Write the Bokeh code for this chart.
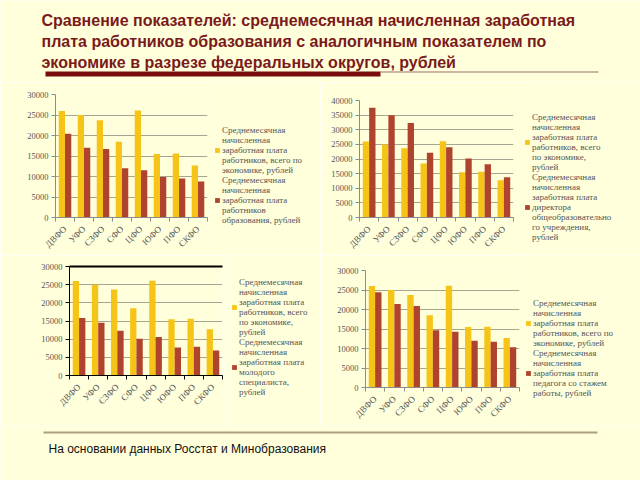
import math
from bokeh.plotting import figure
from bokeh.models import (FixedTicker, LinearAxis, Legend, LegendItem, Label,
                          BoxAnnotation, Range1d, ColumnDataSource)
from bokeh.layouts import column, row
from bokeh.transform import dodge
from bokeh.embed import file_html
from bokeh.resources import INLINE

# ---------------- data ----------------
districts = ["ДВФО", "УФО", "СЗФО", "СФО", "ЦФО", "ЮФО", "ПФО", "СКФО"]
economy_avg = [26000, 25000, 23700, 18500, 26100, 15500, 15600, 12700]
education_avg = [20400, 17000, 16700, 12000, 11500, 9900, 9500, 8800]
director_avg = [37500, 35000, 32300, 22100, 24000, 20200, 18200, 13800]
young_spec_avg = [15800, 14500, 12300, 10100, 10600, 7700, 7900, 6900]
teacher_exp_avg = [24400, 21400, 20900, 14700, 14300, 12000, 11700, 10300]

title_text = ("Сравнение показателей: среднемесячная начисленная заработная\n"
              "плата работников образования с аналогичным показателем по\n"
              "экономике в разрезе федеральных округов, рублей")
footer_text = "На основании данных Росстат и Минобразования"

lab_economy_a = ["Среднемесячная", "начисленная", "заработная плата",
                 "работников, всего по", "экономике, рублей"]
lab_economy_b = ["Среднемесячная", "начисленная", "заработная плата",
                 "работников, всего", "по экономике,", "рублей"]
lab_education = ["Среднемесячная", "начисленная", "заработная плата",
                 "работников", "образования, рублей"]
lab_director = ["Среднемесячная", "начисленная", "заработная плата",
                "директора", "общеобразовательно", "го учреждения,", "рублей"]
lab_young = ["Среднемесячная", "начисленная", "заработная плата",
             "молодого", "специалиста,", "рублей"]
lab_teacher = ["Среднемесячная", "начисленная", "заработная плата",
               "педагога со стажем", "работы, рублей"]

# ---------------- styles ----------------
BG = "#FFFFDC"
YELLOW = "#F6C417"
RED = "#B0432E"
GRID = "#A6A690"
AXIS = "#8C8C8C"
TXT = "#555555"
SERIF = "Liberation Serif"


def make_chart(second, lab1, lab2, ymax, h, bl, fw, bt, bb, leg_x, leg_y, dark=False):
    n = len(districts)
    cw = bl + fw + 4
    src = ColumnDataSource(dict(x=list(range(n)), total=economy_avg, other=second))
    p = figure(width=cw, height=h, x_range=Range1d(-0.5, n - 0.5), y_range=Range1d(0, ymax),
               output_backend="svg", toolbar_location=None,
               min_border_left=bl, min_border_right=4, min_border_top=bt, min_border_bottom=bb,
               background_fill_color=BG, border_fill_color=BG)
    p.vbar(x=dodge("x", -0.165), top="total", width=0.33, source=src,
           fill_color=YELLOW, line_color=None)
    p.vbar(x=dodge("x", 0.165), top="other", width=0.33, source=src,
           fill_color=RED, line_color=None)

    p.outline_line_color = None
    p.xgrid.grid_line_color = None
    yt = list(range(0, ymax + 1, 5000))
    p.yaxis.ticker = FixedTicker(ticks=yt)
    p.ygrid.ticker = FixedTicker(ticks=yt)
    p.ygrid.grid_line_color = GRID
    p.ygrid.grid_line_width = 1

    p.xaxis.ticker = FixedTicker(ticks=list(range(n)),
                                 minor_ticks=[i - 0.5 for i in range(n + 1)])
    p.xaxis.major_label_overrides = {i: d for i, d in enumerate(districts)}
    p.xaxis.major_tick_out = 0
    p.xaxis.major_tick_in = 0
    p.xaxis.minor_tick_out = 4
    p.xaxis.minor_tick_in = 0
    p.xaxis.major_label_orientation = math.pi / 4
    p.xaxis.major_label_standoff = 6
    p.xaxis.major_label_text_font_size = "9px"

    p.yaxis.major_tick_out = 4
    p.yaxis.major_tick_in = 0
    p.yaxis.minor_tick_out = 0
    p.yaxis.minor_tick_in = 0
    p.yaxis.major_label_standoff = 3
    p.yaxis.major_label_text_font_size = "8.5px"

    axc = "#000000" if dark else AXIS
    for ax in (p.xaxis, p.yaxis):
        ax.axis_line_color = axc
        ax.major_tick_line_color = axc
        ax.minor_tick_line_color = axc
        ax.major_label_text_font = SERIF
        ax.major_label_text_color = TXT

    if dark:
        top_ax = LinearAxis(ticker=FixedTicker(ticks=[]), axis_line_color="#000000",
                            axis_line_width=2, major_label_text_font_size="0px",
                            major_tick_out=0, minor_tick_out=0)
        p.add_layout(top_ax, "above")

    # legend panel: a separate figure (its bars lie outside its visible range)
    lw = 320 - cw
    lp = figure(width=lw, height=h, x_range=Range1d(-100, -99), y_range=Range1d(0, 1),
                x_axis_location=None, y_axis_location=None, output_backend="svg",
                toolbar_location=None, min_border=0,
                background_fill_color=BG, border_fill_color=BG)
    lp.grid.visible = False
    lp.outline_line_color = None
    k1 = lp.vbar(x="x", top="total", width=0.3, source=src, fill_color=YELLOW, line_color=None)
    k2 = lp.vbar(x="x", top="other", width=0.3, source=src, fill_color=RED, line_color=None)
    legend = Legend(items=[LegendItem(label="\n".join(lab1), renderers=[k1]),
                           LegendItem(label="\n".join(lab2), renderers=[k2])],
                    location=(leg_x, leg_y))
    legend.label_text_font = SERIF
    legend.label_text_font_size = "9px"
    legend.label_text_color = TXT
    legend.label_text_line_height = 1.15
    legend.label_height = 8
    legend.glyph_width = 6
    legend.glyph_height = 6
    legend.label_standoff = 2
    legend.spacing = 0
    legend.padding = 0
    legend.margin = 0
    legend.background_fill_alpha = 0
    legend.border_line_color = None
    lp.add_layout(legend, "center")
    return row(p, column(lp))


c1 = make_chart(education_avg, lab_economy_a, lab_education, 30000,
                173, 55, 152, 12, 37, 3, 30)
c2 = make_chart(director_avg, lab_economy_b, lab_director, 40000,
                173, 39, 154, 18, 37, 7, 13)
c3 = make_chart(young_spec_avg, lab_economy_b, lab_young, 30000,
                170, 69, 153, 11, 50, 5, 28, dark=True)
c4 = make_chart(teacher_exp_avg, lab_economy_a, lab_teacher, 30000,
                170, 45, 154, 15, 30, 2, 27)

# ---------------- title ----------------
tp = figure(width=640, height=82, x_range=Range1d(0, 640), y_range=Range1d(0, 82),
            x_axis_location=None, y_axis_location=None, output_backend="svg",
            toolbar_location=None, min_border=0, background_fill_color=BG,
            border_fill_color=BG)
tp.grid.visible = False
tp.outline_line_color = None
tp.add_layout(Label(x=41, y=71, text=title_text, text_font="Liberation Sans",
                    text_font_style="bold", text_font_size="16px", text_color="#7B1A1A",
                    text_baseline="top", text_line_height=1.25))
tp.add_layout(BoxAnnotation(left=45, right=380, bottom=6, top=11,
                            fill_color="#7A0C0C", fill_alpha=1, line_color=None))
tp.add_layout(BoxAnnotation(left=380, right=598, bottom=10, top=11,
                            fill_color="#9C6C6C", fill_alpha=1, line_color=None))

# ---------------- footer ----------------
fp = figure(width=640, height=55, x_range=Range1d(0, 640), y_range=Range1d(0, 55),
            x_axis_location=None, y_axis_location=None, output_backend="svg",
            toolbar_location=None, min_border=0, background_fill_color=BG,
            border_fill_color=BG)
fp.grid.visible = False
fp.outline_line_color = None
fp.add_layout(BoxAnnotation(left=43, right=597, bottom=47, top=49,
                            fill_color="#ADA07A", fill_alpha=1, line_color=None))
fp.add_layout(Label(x=48, y=32, text=footer_text, text_font="Liberation Sans",
                    text_font_size="12px", text_color="#111111", text_baseline="middle"))

layout = column(tp, row(c1, c2), row(c3, c4), fp)

with open("out.html", "w") as f:
    f.write(file_html(layout, INLINE))
